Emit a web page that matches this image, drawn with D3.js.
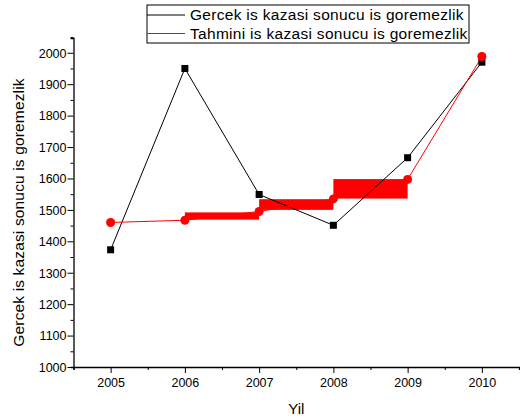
<!DOCTYPE html>
<html>
<head>
<meta charset="utf-8">
<script src="https://cdn.jsdelivr.net/npm/d3@7"></script>
<style>
    body { margin: 0; background: #fff; }
    svg { display: block; font-family: "Liberation Sans", Arial, sans-serif; }
</style>
</head>
<body>
<div id="chart"></div>
<script>
// Yillar ve degerler
const years = [2005, 2006, 2007, 2008, 2009, 2010];
const actual = [1373, 1950, 1549, 1451, 1666, 1970];
const predicted = [1460, 1467, 1495, 1535, 1597, 1988];

// dense prediction bands between years (low / high)
const bandStart = [2006, 2007, 2008];
const bandEnd = [2007, 2008, 2009];
const bandLow = [1469, 1500, 1536];
const bandHigh = [1492, 1534, 1598];

const xTicks = [2005, 2006, 2007, 2008, 2009, 2010];
const yTicks = [1000, 1100, 1200, 1300, 1400, 1500, 1600, 1700, 1800, 1900, 2000];

const seriesNames = ["Gercek is kazasi sonucu is goremezlik", "Tahmini is kazasi sonucu is goremezlik"];

const width = 520, height = 418;
const margin = { left: 73.5, right: 1, top: 38, bottom: 51 };

const svg = d3.select("#chart").append("svg")
    .attr("width", width)
    .attr("height", height);

const x = d3.scaleLinear()
    .domain([2004.5, 2010.5])
    .range([margin.left, width - margin.right]);

const y = d3.scaleLinear()
    .domain([1000, 2047])
    .range([height - margin.bottom, margin.top]);

// X axis with minor ticks
const xAxis = svg.append("g")
    .attr("transform", `translate(0,${height - margin.bottom})`);
xAxis.call(d3.axisBottom(x).tickValues(d3.range(2004.5, 2010.6, 0.5)).tickSize(3).tickFormat(""));
xAxis.call(g => g.selectAll(".tick").filter(d => xTicks.includes(d)).select("line").attr("y2", 6));
xAxis.selectAll(".tick text").remove();
xAxis.selectAll(".tick").filter(d => xTicks.includes(d))
    .append("text")
    .attr("y", 20)
    .attr("fill", "#000")
    .attr("text-anchor", "middle")
    .style("font-size", "12.5px")
    .text(d => d);

// Y axis with minor ticks
const yAxis = svg.append("g")
    .attr("transform", `translate(${margin.left},0)`);
yAxis.call(d3.axisLeft(y).tickValues(d3.range(1000, 2051, 50)).tickSize(3).tickFormat(""));
yAxis.call(g => g.selectAll(".tick").filter(d => yTicks.includes(d)).select("line").attr("x2", -6));
yAxis.selectAll(".tick").filter(d => yTicks.includes(d))
    .append("text")
    .attr("x", -7)
    .attr("dy", "0.35em")
    .attr("fill", "#000")
    .attr("text-anchor", "end")
    .style("font-size", "12.5px")
    .text(d => d);

[xAxis, yAxis].forEach(a => {
    a.select(".domain").attr("stroke", "#000").attr("stroke-width", 1.3);
    a.selectAll(".tick line").attr("stroke", "#000");
});

// Axis titles
svg.append("text")
    .attr("x", x(2007.5))
    .attr("y", 414)
    .attr("text-anchor", "middle")
    .style("font-size", "15px")
    .text("Yil");

svg.append("text")
    .attr("transform", `translate(24,${(y(1000) + y(2047)) / 2 + 10}) rotate(-90)`)
    .attr("text-anchor", "middle")
    .style("font-size", "15.5px")
    .style("letter-spacing", "0.15px")
    .text("Gercek is kazasi sonucu is goremezlik");

// Red prediction bands
const bands = bandStart.map((s, i) => ({ s, e: bandEnd[i], lo: bandLow[i], hi: bandHigh[i] }));
svg.append("g")
    .selectAll("rect")
    .data(bands)
    .join("rect")
    .attr("x", d => x(d.s))
    .attr("width", d => x(d.e) - x(d.s))
    .attr("y", d => y(d.hi))
    .attr("height", d => y(d.lo) - y(d.hi))
    .attr("fill", "#ff0000");

const line = d3.line().x(d => x(d[0])).y(d => y(d[1]));

// Black line (actual)
const actualPts = years.map((yr, i) => [yr, actual[i]]);
svg.append("path")
    .datum(actualPts)
    .attr("d", line)
    .attr("fill", "none")
    .attr("stroke", "#000")
    .attr("stroke-width", 1);

// Red line (predicted)
const predPts = years.map((yr, i) => [yr, predicted[i]]);
svg.append("path")
    .datum(predPts)
    .attr("d", line)
    .attr("fill", "none")
    .attr("stroke", "#ff0000")
    .attr("stroke-width", 1);

svg.append("g")
    .selectAll("rect")
    .data(actualPts)
    .join("rect")
    .attr("x", d => x(d[0]) - 3.5)
    .attr("y", d => y(d[1]) - 3.5)
    .attr("width", 7)
    .attr("height", 7)
    .attr("fill", "#000");

svg.append("g")
    .selectAll("circle")
    .data(predPts)
    .join("circle")
    .attr("cx", d => x(d[0]))
    .attr("cy", d => y(d[1]))
    .attr("r", 4.5)
    .attr("fill", "#ff0000");

// Legend
const legend = svg.append("g");
legend.append("rect")
    .attr("x", 147)
    .attr("y", 5)
    .attr("width", 322)
    .attr("height", 38)
    .attr("fill", "#fff")
    .attr("stroke", "#000")
    .attr("stroke-width", 1);

const legendColors = ["#000", "#ff0000"];
seriesNames.forEach((name, i) => {
    const ly = 15 + i * 18.5;
    legend.append("line")
        .attr("x1", 147).attr("x2", 185)
        .attr("y1", ly).attr("y2", ly)
        .attr("stroke", legendColors[i])
        .attr("stroke-width", 1);
    legend.append("text")
        .attr("x", 190)
        .attr("y", ly + 5)
        .style("font-size", "15.5px")
        .style("letter-spacing", "0.3px")
        .text(name);
});
</script>
</body>
</html>
